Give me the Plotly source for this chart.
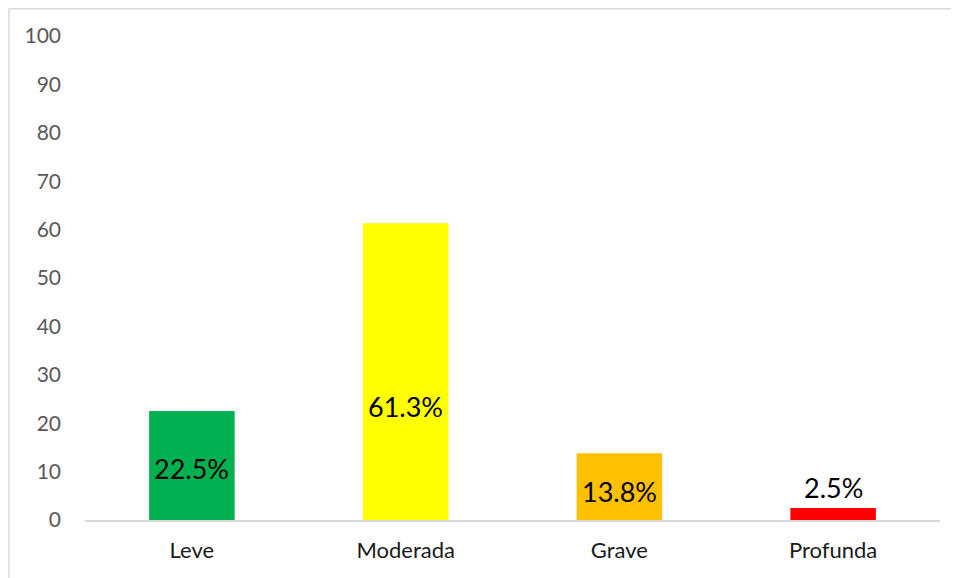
import plotly.graph_objects as go

categories = ["Leve", "Moderada", "Grave", "Profunda"]
values = [22.5, 61.3, 13.8, 2.5]
labels = ["22.5%", "61.3%", "13.8%", "2.5%"]
colors = ["#00B050", "#FFFF00", "#FFC000", "#FF0000"]
label_y = [10.7, 23.5, 5.8, 6.8]
y_ticks = [0, 10, 20, 30, 40, 50, 60, 70, 80, 90, 100]

# page has an 8px body margin; compensate
off = 8
W, H = 959 - off, 578 - off
ml, mr, mt, mb = 85 - off, 19, 36 - off, 58
pw, ph = W - ml - mr, H - mt - mb

fig = go.Figure()
fig.add_trace(go.Bar(
    x=categories, y=values, marker=dict(color=colors, line=dict(width=0)),
    width=0.4, showlegend=False, hoverinfo="skip"))

for c, yv, t in zip(categories, label_y, labels):
    fig.add_annotation(x=c, y=yv, text=t, showarrow=False, xref="x", yref="y",
                       font=dict(family="Lato, Carlito, sans-serif", size=27, color="#000000"))

bx = (9 - off - ml) / pw
by = 1 + (mt - 0.75) / ph
fig.add_shape(type="line", xref="paper", yref="paper", x0=bx, x1=bx, y0=-0.5, y1=by,
              line=dict(color="#D9D9D9", width=1.5), layer="below")
fig.add_shape(type="line", xref="paper", yref="paper", x0=bx, x1=1.5, y0=by, y1=by,
              line=dict(color="#D9D9D9", width=1.5), layer="below")

fig.update_layout(
    width=W, height=H, margin=dict(l=ml, r=mr, t=mt, b=mb),
    plot_bgcolor="white", paper_bgcolor="white",
    bargap=0.6,
    font=dict(family="Lato, Carlito, sans-serif"),
    xaxis=dict(showgrid=False, showline=True, linecolor="#D9D9D9", linewidth=1.5,
               ticks="", tickfont=dict(size=22, color="#1a1a1a"), ticklabelstandoff=10),
    yaxis=dict(range=[0, 100], tickvals=y_ticks, showgrid=False, zeroline=False,
               showline=False, ticks="", tickfont=dict(size=21, color="#595959"),
               ticklabelstandoff=23),
)
fig.write_html("out.html")
